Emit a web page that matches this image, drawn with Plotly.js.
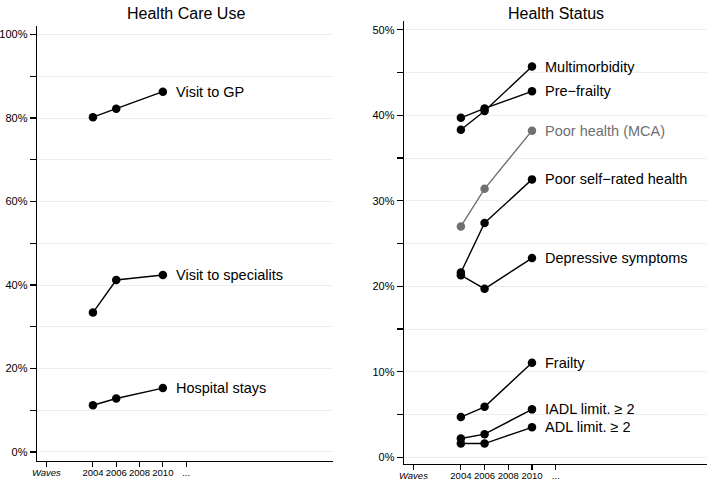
<!DOCTYPE html>
<html>
<head>
<meta charset="utf-8">
<script src="https://cdn.plot.ly/plotly-3.0.1.min.js"></script>
<style>html,body{margin:0;padding:0;background:#fff;}#chart{width:709px;height:482px;}</style>
</head>
<body>
<div id="chart"></div>
<script>
// ---- data ----
const waves = [2004, 2006, 2010];
const xTickVals = [2000, 2004, 2006, 2008, 2010, 2012];
const xTickText = ['<i>Waves</i>', '2004', '2006', '2008', '2010', '...'];

// Health Care Use (%)
const careNames = ['Visit to GP', 'Visit to specialits', 'Hospital stays'];
const visitGP = [80.2, 82.2, 86.3];
const visitSpecialist = [33.4, 41.2, 42.4];
const hospitalStays = [11.2, 12.8, 15.3];

// Health Status (%)
const statusNames = ['Multimorbidity', 'Pre\u2212frailty', 'Poor health (MCA)', 'Poor self\u2212rated health',
  'Depressive symptoms', 'Frailty', 'IADL limit. \u2265 2', 'ADL limit. \u2265 2'];
const multimorbidity = [38.3, 40.5, 45.7];
const preFrailty = [39.7, 40.8, 42.8];
const poorHealthMCA = [27.0, 31.4, 38.2];
const poorSelfRated = [21.6, 27.4, 32.5];
const depressive = [21.3, 19.7, 23.3];
const frailty = [4.7, 5.9, 11.05];
const iadl = [2.2, 2.7, 5.6];
const adl = [1.6, 1.6, 3.5];

const leftYTicks = [0, 10, 20, 30, 40, 50, 60, 70, 80, 90, 100];
const rightYTicks = [0, 5, 10, 15, 20, 25, 30, 35, 40, 45, 50];

// ---- build ----
const BLACK = '#000000', GRAY = '#707070';
const traces = [];
const annotations = [];
const FONT = 'Liberation Sans, Arial, Helvetica, sans-serif';

function addSeries(vals, name, color, axisIdx) {
  traces.push({
    x: waves, y: vals, type: 'scatter', mode: 'lines+markers', name: name,
    xaxis: axisIdx === 1 ? 'x' : 'x2', yaxis: axisIdx === 1 ? 'y' : 'y2',
    line: {color: color, width: 1.4},
    marker: {color: color, size: 8.5},
    hoverinfo: 'skip'
  });
  annotations.push({
    x: waves[waves.length - 1], y: vals[vals.length - 1],
    xref: axisIdx === 1 ? 'x' : 'x2', yref: axisIdx === 1 ? 'y' : 'y2',
    text: name, showarrow: false, xanchor: 'left', yanchor: 'middle', xshift: 11,
    font: {family: FONT, size: 14.5, color: color}
  });
}

addSeries(visitGP, careNames[0], BLACK, 1);
addSeries(visitSpecialist, careNames[1], BLACK, 1);
addSeries(hospitalStays, careNames[2], BLACK, 1);

addSeries(multimorbidity, statusNames[0], BLACK, 2);
addSeries(preFrailty, statusNames[1], BLACK, 2);
addSeries(poorHealthMCA, statusNames[2], GRAY, 2);
addSeries(poorSelfRated, statusNames[3], BLACK, 2);
addSeries(depressive, statusNames[4], BLACK, 2);
addSeries(frailty, statusNames[5], BLACK, 2);
addSeries(iadl, statusNames[6], BLACK, 2);
addSeries(adl, statusNames[7], BLACK, 2);

annotations.push({x: 186 / 709, y: 1 - 13 / 482, xref: 'paper', yref: 'paper', text: 'Health Care Use',
  showarrow: false, xanchor: 'center', yanchor: 'middle', font: {family: FONT, size: 16, color: '#000'}});
annotations.push({x: 556 / 709, y: 1 - 13 / 482, xref: 'paper', yref: 'paper', text: 'Health Status',
  showarrow: false, xanchor: 'center', yanchor: 'middle', font: {family: FONT, size: 16, color: '#000'}});

function xAxis(domain, range, anchor) {
  return {
    domain: domain, range: range, anchor: anchor,
    tickmode: 'array', tickvals: xTickVals, ticktext: xTickText,
    tickangle: 0,
    showgrid: false, zeroline: false, showline: true, linecolor: '#000', linewidth: 1.3,
    ticks: 'outside', ticklen: 5, tickwidth: 1.1, tickcolor: '#000',
    ticklabelstandoff: -3,
    tickfont: {family: FONT, size: 9.5, color: '#000'}, fixedrange: true
  };
}
function yAxis(domain, range, anchor, ticks, step) {
  return {
    domain: domain, range: range, anchor: anchor,
    tickmode: 'array', tickvals: ticks,
    ticktext: ticks.map(v => (v % step === 0 ? v + '%' : '')),
    showgrid: true, gridcolor: '#eeeeee', gridwidth: 1,
    zeroline: false, showline: true, linecolor: '#000', linewidth: 1.3,
    ticks: 'outside', ticklen: 6, tickwidth: 1.1, tickcolor: '#000',
    tickfont: {family: FONT, size: 11, color: '#000'}, fixedrange: true
  };
}

const layout = {
  width: 709, height: 482,
  margin: {l: 0, r: 0, t: 0, b: 0},
  paper_bgcolor: '#fff', plot_bgcolor: '#fff',
  showlegend: false,
  xaxis: xAxis([37 / 709, 333 / 709], [1999.2, 2024.6], 'y'),
  yaxis: yAxis([1 - 461 / 482, 1 - 26 / 482], [-2.16, 102.04], 'x', leftYTicks, 20),
  xaxis2: xAxis([404 / 709, 707 / 709], [1999.2, 2024.77], 'y2'),
  yaxis2: yAxis([1 - 464 / 482, 1 - 20.7 / 482], [-0.79, 51.06], 'x2', rightYTicks, 10),
  annotations: annotations
};

Plotly.newPlot('chart', traces, layout, {displayModeBar: false, staticPlot: true});
</script>
</body>
</html>
